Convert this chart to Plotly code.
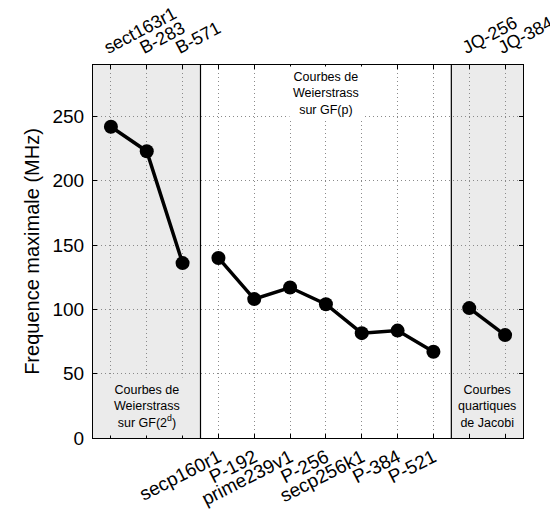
import plotly.graph_objects as go

categories = ["sect163r1", "B-283", "B-571", "secp160r1", "P-192", "prime239v1",
              "P-256", "secp256k1", "P-384", "P-521", "JQ-256", "JQ-384"]
freq_mhz = [242, 223, 136, 140, 108, 117, 104, 81.5, 83.5, 67, 101, 80]
groups = [0, 0, 0, 1, 1, 1, 1, 1, 1, 1, 2, 2]
y_ticks = [0, 50, 100, 150, 200, 250]

idx = list(range(len(categories)))
FONT = "Liberation Sans, Arial, sans-serif"

fig = go.Figure()
for g in sorted(set(groups)):
    xs = [i for i in idx if groups[i] == g]
    ys = [freq_mhz[i] for i in xs]
    fig.add_trace(go.Scatter(x=xs, y=ys, mode="lines+markers",
                             line=dict(color="black", width=3.5),
                             marker=dict(color="black", size=14),
                             showlegend=False, hoverinfo="skip"))
# invisible trace for top axis
fig.add_trace(go.Scatter(x=[0], y=[0], xaxis="x2", mode="markers",
                         marker=dict(opacity=0), showlegend=False, hoverinfo="skip"))

bottom_text = [categories[i] if groups[i] == 1 else "" for i in idx]
top_idx = [i for i in idx if groups[i] != 1]

grid = dict(showgrid=True, gridcolor="#8a8a8a", griddash="1px,3px", gridwidth=1)
fig.update_layout(
    width=550, height=504,
    margin=dict(l=85, r=35, t=57, b=74),
    plot_bgcolor="white", paper_bgcolor="white",
    font=dict(family=FONT, size=19, color="black"),
    xaxis=dict(range=[-0.5, 11.5], tickvals=idx, ticktext=bottom_text,
               tickangle=-27, ticks="inside", ticklen=4, tickcolor="black",
               showline=True, linecolor="black", linewidth=1, mirror="ticks",
               zeroline=False, ticklabeloverflow="allow", automargin=False,
               **grid),
    xaxis2=dict(range=[-0.5, 11.5], overlaying="x", side="top",
                tickvals=top_idx, ticktext=[categories[i] for i in top_idx],
                tickangle=-28, tickfont=dict(size=18), ticks="", showgrid=False,
                zeroline=False, anchor="y", ticklabeloverflow="allow",
                ticklabelshift=-7, ticklabelstandoff=5, automargin=False),
    yaxis=dict(range=[0, 290], tickvals=y_ticks, ticks="inside", ticklen=4,
               tickcolor="black", showline=True, linecolor="black", linewidth=1,
               mirror="ticks", zeroline=False, automargin=False,
               ticklabelstandoff=4,
               title=dict(text="Frequence maximale (MHz)", standoff=7,
                          font=dict(size=20)), **grid),
)

# shaded regions
for x0, x1 in [(-0.5, 2.5), (9.5, 11.5)]:
    fig.add_shape(type="rect", xref="x", yref="paper", x0=x0, x1=x1, y0=0, y1=1,
                  fillcolor="#ebebeb", line=dict(width=0), layer="below")
for xv in [2.5, 9.5]:
    fig.add_shape(type="line", xref="x", yref="paper", x0=xv, x1=xv, y0=0, y1=1,
                  line=dict(color="black", width=1.2))

ann_font = dict(family=FONT, size=12.5, color="black")
fig.add_annotation(x=1, y=24.5, xref="x", yref="y",
                   text="Courbes de<br>Weierstrass<br>sur GF(2<sup>d</sup>)",
                   showarrow=False, font=ann_font, bgcolor="#ebebeb", borderpad=5)
fig.add_annotation(x=6.0, y=268, xref="x", yref="y",
                   text="Courbes de<br>Weierstrass<br>sur GF(p)",
                   showarrow=False, font=ann_font, bgcolor="white", borderpad=3)
fig.add_annotation(x=10.5, y=24.5, xref="x", yref="y",
                   text="Courbes<br>quartiques<br>de Jacobi",
                   showarrow=False, font=ann_font, bgcolor="#ebebeb", borderpad=3)

fig.write_html("out.html")
